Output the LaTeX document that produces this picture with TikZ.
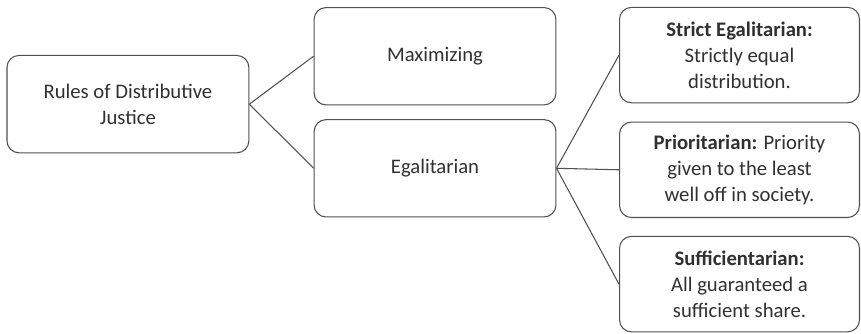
\documentclass[tikz,border=0pt]{standalone}
\usepackage{fontspec}
\setmainfont{Carlito}
\usetikzlibrary{positioning}

\definecolor{boxline}{HTML}{505050}
\definecolor{boxtext}{HTML}{303030}

\tikzstyle{rulebox} = [rectangle, rounded corners=9pt, minimum width=6.41cm, minimum height=2.58cm, text centered, align=center, draw=boxline, line width=0.8pt, text=boxtext, font=\fontsize{15.6}{19.6}\selectfont]
\tikzstyle{kindbox} = [rulebox, minimum width=6.36cm, minimum height=2.53cm]
\tikzstyle{branch} = [draw=boxline, line width=0.8pt]

\begin{document}
\begin{tikzpicture}[node distance=3cm]
        \useasboundingbox (0,0) rectangle (22.82,-8.85);
        \node (rules) [rulebox] at (3.39,-2.76) {Rules of Distributive\\Justice};
        \node (maxim) [rulebox] at (11.53,-1.49) {Maximizing};
        \node (egal) [rulebox, below of=maxim, yshift=0.03cm] {Egalitarian};
        \node (strict) [kindbox] at (19.6,-1.46) {\textbf{Strict Egalitarian:}\\Strictly equal\\distribution.};
        \node (prior) [kindbox, below of=strict, yshift=-0.04cm] {\textbf{Prioritarian:} Priority\\given to the least\\well off in society.};
        \node (suff) [kindbox, below of=prior, yshift=-0.03cm] {\textbf{Sufficientarian:}\\All guaranteed a\\sufficient share.};

        \draw [branch] (rules.east) -- (maxim.west);
        \draw [branch] (rules.east) -- (egal.west);
        \draw [branch] (egal.east) -- (strict.west);
        \draw [branch] (egal.east) -- (prior.west);
        \draw [branch] (egal.east) -- (suff.west);
    \end{tikzpicture}
\end{document}
